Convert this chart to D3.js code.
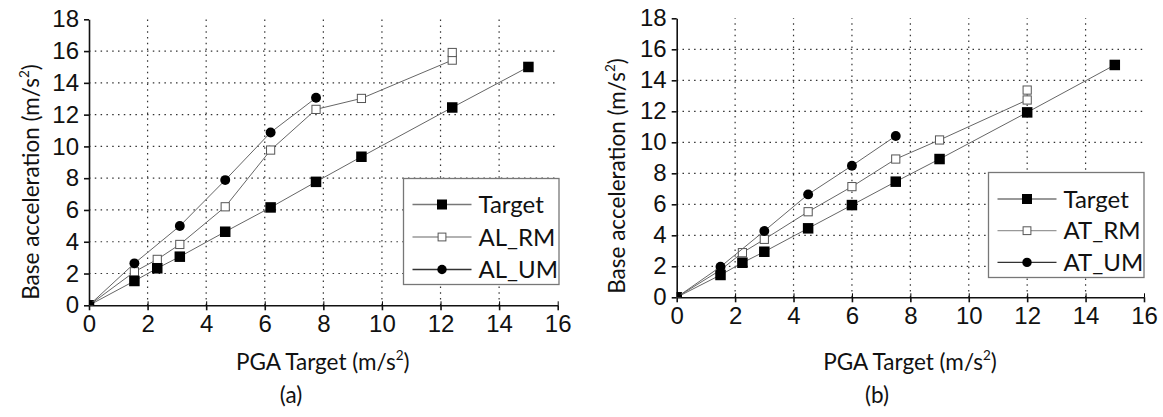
<!DOCTYPE html>
<html>
<head>
<meta charset="utf-8">
<script src="https://cdn.jsdelivr.net/npm/d3@7"></script>
<style>
  body { margin: 0; background: #fff; }
  svg { display: block; font-family: Lato, "Open Sans", sans-serif; }
</style>
</head>
<body>
<svg id="chart" width="1163" height="417"></svg>
<script>
// tick values shared by both panels
const xTicks = [0, 2, 4, 6, 8, 10, 12, 14, 16];
const yTicks = [0, 2, 4, 6, 8, 10, 12, 14, 16, 18];

// panel (a) - longitudinal
const aTargetX = [0, 1.55, 2.33, 3.1, 4.65, 6.2, 7.75, 9.3, 12.4, 15.0];
const aTargetY = [0, 1.53, 2.33, 3.06, 4.63, 6.16, 7.77, 9.35, 12.45, 15.0];
const aRmX = [0, 1.55, 2.33, 3.1, 4.65, 6.2, 7.75, 9.3, 12.4, 12.4];
const aRmY = [0, 2.11, 2.89, 3.83, 6.2, 9.77, 12.33, 13.02, 15.43, 15.91];
const aUmX = [0, 1.55, 3.1, 4.65, 6.2, 7.75];
const aUmY = [0, 2.64, 4.99, 7.88, 10.88, 13.06];

// panel (b) - transversal
const bTargetX = [0, 1.5, 2.25, 3, 4.5, 6, 7.5, 9, 12, 15];
const bTargetY = [0, 1.44, 2.23, 2.94, 4.45, 5.95, 7.46, 8.92, 11.93, 14.99];
const bRmX = [0, 1.5, 2.25, 3, 4.5, 6, 7.5, 9, 12, 12];
const bRmY = [0, 1.76, 2.88, 3.74, 5.52, 7.14, 8.92, 10.15, 12.73, 13.37];
const bUmX = [0, 1.5, 3, 4.5, 6, 7.5];
const bUmY = [0, 1.97, 4.28, 6.64, 8.49, 10.41];

const tickSize = 24;
const labelSize = 22.5;
const svg = d3.select('#chart');

function zip(xs, ys) {
  return xs.map((x, i) => ({ x: x, y: ys[i] }));
}

function drawPanel(p) {
  const x = d3.scaleLinear().domain([0, 16]).range([p.left, p.right]);
  const y = d3.scaleLinear().domain([0, 18]).range([p.bottom, p.top]);
  const g = svg.append('g');

  // clip so markers at the origin get cut by the axes
  g.append('clipPath').attr('id', p.id + '-clip')
    .append('rect')
    .attr('x', p.left).attr('y', p.top - 10)
    .attr('width', p.right - p.left + 10).attr('height', p.bottom - p.top + 10);

  // dotted grid
  g.append('g').selectAll('line')
    .data(yTicks.filter(v => v > 0 && v < 18))
    .join('line')
    .attr('x1', p.left).attr('x2', x(16))
    .attr('y1', d => y(d)).attr('y2', d => y(d))
    .attr('stroke', '#333').attr('stroke-width', 1.2)
    .attr('stroke-dasharray', '1.5,4.3');
  g.append('g').selectAll('line')
    .data(xTicks.filter(v => v > 0 && v < 16))
    .join('line')
    .attr('x1', d => x(d)).attr('x2', d => x(d))
    .attr('y1', p.bottom).attr('y2', y(18))
    .attr('stroke', '#333').attr('stroke-width', 1.2)
    .attr('stroke-dasharray', '1.5,4.3');

  // axes
  const xAxis = g.append('g')
    .attr('transform', `translate(0,${p.bottom})`)
    .call(d3.axisBottom(x).tickValues(xTicks).tickSizeInner(5).tickSizeOuter(0).tickPadding(7));
  g.append('g')
    .attr('transform', `translate(0,${p.bottom})`)
    .call(d3.axisTop(x).tickValues(xTicks).tickSize(4).tickFormat(''))
    .select('.domain').remove();
  const yAxis = g.append('g')
    .attr('transform', `translate(${p.left},0)`)
    .call(d3.axisLeft(y).tickValues(yTicks).tickSizeInner(5).tickSizeOuter(0).tickPadding(5));
  [xAxis, yAxis].forEach(a => {
    a.selectAll('path, line').attr('stroke', '#111').attr('stroke-width', 1.6);
    a.selectAll('text').attr('font-size', tickSize).attr('font-family', null).attr('fill', '#111');
  });
  xAxis.selectAll('text').attr('dy', '0.62em');

  // series
  const line = d3.line().x(d => x(d.x)).y(d => y(d.y));
  const plot = g.append('g').attr('clip-path', `url(#${p.id}-clip)`);
  p.series.forEach(s => {
    const pts = zip(s.xs, s.ys);
    plot.append('path').datum(pts)
      .attr('d', line).attr('fill', 'none')
      .attr('stroke', '#666').attr('stroke-width', 1);
    drawMarkers(plot, pts.map(d => [x(d.x), y(d.y)]), s.kind, 10.5);
  });

  // legend
  const lg = g.append('g');
  lg.append('rect')
    .attr('x', p.legend.x).attr('y', p.legend.y)
    .attr('width', p.legend.w).attr('height', p.legend.h)
    .attr('fill', '#fff').attr('stroke', '#777').attr('stroke-width', 1.3);
  p.series.slice().sort((a, b) => a.order - b.order).forEach((s, i) => {
    const ly = p.legend.y + p.legend.row0 + i * p.legend.step;
    const lx = p.legend.x + 9;
    lg.append('line')
      .attr('x1', lx).attr('x2', lx + 59).attr('y1', ly).attr('y2', ly)
      .attr('stroke', s.legendStroke).attr('stroke-width', 1.3);
    drawMarkers(lg, [[lx + 29.5, ly]], s.kind, 10);
    lg.append('text')
      .attr('x', lx + 66).attr('y', ly).attr('dy', '0.36em')
      .attr('font-size', tickSize).attr('fill', '#111')
      .text(s.name);
  });

  // axis titles
  const xl = g.append('text')
    .attr('x', p.xLabelX).attr('y', p.xLabelY)
    .attr('text-anchor', 'middle').attr('font-size', labelSize).attr('fill', '#111');
  xl.append('tspan').text('PGA Target (m/s');
  xl.append('tspan').attr('font-size', labelSize * 0.6).attr('dy', -10).text('2');
  xl.append('tspan').attr('dy', 10).text(')');

  const yl = g.append('text')
    .attr('transform', `translate(${p.yLabelX},${p.yLabelY}) rotate(-90)`)
    .attr('text-anchor', 'middle').attr('font-size', labelSize).attr('fill', '#111');
  yl.append('tspan').text('Base acceleration (m/s');
  yl.append('tspan').attr('font-size', labelSize * 0.6).attr('dy', -10).text('2');
  yl.append('tspan').attr('dy', 10).text(')');

  g.append('text')
    .attr('x', p.capX).attr('y', p.capY)
    .attr('text-anchor', 'middle').attr('font-size', labelSize).attr('fill', '#111')
    .text(p.caption);
}

function drawMarkers(sel, pts, kind, size) {
  if (kind === 'circle') {
    sel.selectAll(null).data(pts).join('circle')
      .attr('cx', d => d[0]).attr('cy', d => d[1]).attr('r', size / 2 - 0.3)
      .attr('fill', '#000');
  } else if (kind === 'open') {
    const s = size * 0.78;
    sel.selectAll(null).data(pts).join('rect')
      .attr('x', d => d[0] - s / 2).attr('y', d => d[1] - s / 2)
      .attr('width', s).attr('height', s)
      .attr('fill', '#fff').attr('stroke', '#555').attr('stroke-width', 1);
  } else {
    sel.selectAll(null).data(pts).join('rect')
      .attr('x', d => d[0] - size / 2).attr('y', d => d[1] - size / 2)
      .attr('width', size).attr('height', size)
      .attr('fill', '#000');
  }
}

drawPanel({
  id: 'pa', left: 89, right: 557.7, top: 19.3, bottom: 305.3,
  series: [
    { name: 'AL_RM', xs: aRmX, ys: aRmY, kind: 'open', order: 1, legendStroke: '#999' },
    { name: 'Target', xs: aTargetX, ys: aTargetY, kind: 'square', order: 0, legendStroke: '#777' },
    { name: 'AL_UM', xs: aUmX, ys: aUmY, kind: 'circle', order: 2, legendStroke: '#333' }
  ],
  legend: { x: 403.5, y: 178.5, w: 155.5, h: 106, row0: 26, step: 32.5 },
  xLabelX: 322.7, xLabelY: 370,
  yLabelX: 39, yLabelY: 182,
  capX: 291, capY: 403, caption: '(a)'
});

drawPanel({
  id: 'pb', left: 676.7, right: 1144, top: 18.3, bottom: 297.3,
  series: [
    { name: 'AT_RM', xs: bRmX, ys: bRmY, kind: 'open', order: 1, legendStroke: '#999' },
    { name: 'Target', xs: bTargetX, ys: bTargetY, kind: 'square', order: 0, legendStroke: '#777' },
    { name: 'AT_UM', xs: bUmX, ys: bUmY, kind: 'circle', order: 2, legendStroke: '#333' }
  ],
  legend: { x: 988.5, y: 172.5, w: 155.5, h: 105, row0: 26.5, step: 31.7 },
  xLabelX: 910, xLabelY: 370,
  yLabelX: 625, yLabelY: 176,
  capX: 877, capY: 403, caption: '(b)'
});
</script>
</body>
</html>
